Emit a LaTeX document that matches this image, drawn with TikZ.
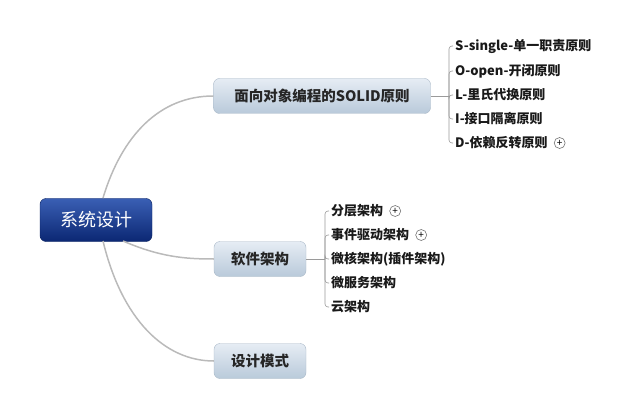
\documentclass[tikz,border=0pt]{standalone}
\usepackage{fontspec}
\setmainfont{Noto Sans CJK SC}
\usetikzlibrary{positioning}

\definecolor{roottop}{HTML}{3A5FB4}
\definecolor{rootbot}{HTML}{0B2773}
\definecolor{rootline}{HTML}{0A2260}
\definecolor{boxtop}{HTML}{E6EDF4}
\definecolor{boxbot}{HTML}{B9CADA}
\definecolor{boxline}{HTML}{A9B8C7}
\definecolor{linkgray}{HTML}{BABABA}
\definecolor{leafgray}{HTML}{9A9A9A}

\tikzset{
  rootbox/.style={draw=rootline, top color=roottop, bottom color=rootbot,
    rounded corners=6pt, text=white, minimum width=112pt, minimum height=43pt,
    font=\fontsize{18}{18}\selectfont},
  topicbox/.style={draw=boxline, top color=boxtop, bottom color=boxbot,
    rounded corners=6pt, text=black!85, minimum height=35pt,
    font=\bfseries\fontsize{14.5}{15}\selectfont},
  leaf/.style={anchor=west, inner sep=2pt, text=black!90,
    font=\bfseries\fontsize{13}{13}\selectfont},
  expand/.style={draw=black!55, circle, inner sep=0pt, minimum size=11pt,
    line width=0.6pt, font=\fontsize{10}{10}\selectfont},
  link/.style={draw=linkgray, line width=1.5pt},
  twig/.style={draw=leafgray, line width=0.6pt, rounded corners=3pt}
}

\begin{document}
\begin{tikzpicture}[x=1pt, y=-1pt]
    % Fix the page size
    \useasboundingbox (0,0) rectangle (643,417);

    % Central topic
    \node[rootbox] (root) at (96,220) {系统设计};

    % Main topics
    \node[topicbox, minimum width=217pt] (solid) at (322,96) {面向对象编程的SOLID原则};
    \node[topicbox, minimum width=92pt] (arch) at (260,259) {软件架构};
    \node[topicbox, minimum width=92pt] (pattern) at (260,361) {设计模式};

    % Curved links from the centre
    \draw[link] (103,198) .. controls (122,135) and (160,96) .. (solid.west);
    \draw[link] (123,241) .. controls (160,257) and (185,259) .. (arch.west);
    \draw[link] (103,241) .. controls (122,320) and (165,361) .. (pattern.west);

    % SOLID leaves
    \node[leaf] (s) at (453,46) {S-single-单一职责原则};
    \node[leaf] (o) at (453,71) {O-open-开闭原则};
    \node[leaf] (l) at (453,95) {L-里氏代换原则};
    \node[leaf] (i) at (453,119) {I-接口隔离原则};
    \node[leaf] (d) at (453,143) {D-依赖反转原则};
    \node[expand, right=4pt of d] (dplus) {+};

    \draw[twig] (solid.east) -- (449,96) coordinate (sk);
    \foreach \n in {s,o,l,i,d}
        \draw[twig] (sk) |- (\n.west);

    % Architecture leaves
    \node[leaf] (layer) at (329,211) {分层架构};
    \node[leaf] (event) at (329,235) {事件驱动架构};
    \node[leaf] (micro) at (329,259) {微核架构(插件架构)};
    \node[leaf] (service) at (329,283) {微服务架构};
    \node[leaf] (cloud) at (329,307) {云架构};
    \node[expand, right=4pt of layer] (layerplus) {+};
    \node[expand, right=4pt of event] (eventplus) {+};

    \draw[twig] (arch.east) -- (325,259) coordinate (ak);
    \foreach \n in {layer,event,micro,service,cloud}
        \draw[twig] (ak) |- (\n.west);

\end{tikzpicture}
\end{document}
